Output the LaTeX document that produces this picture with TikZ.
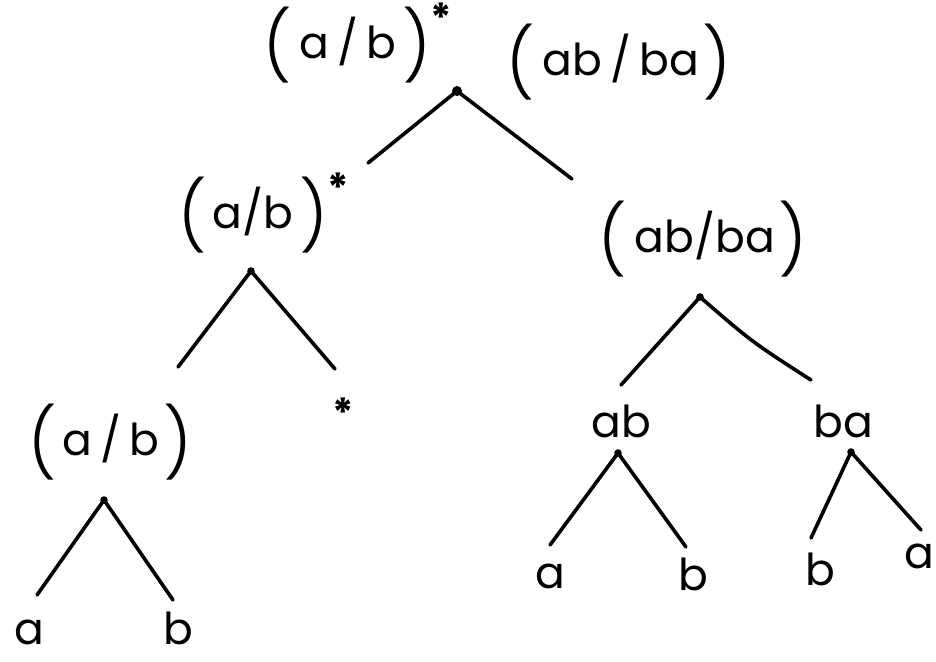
\documentclass[tikz,border=0pt]{standalone}
\usepackage{fontspec}
\setmainfont{Poppins}
\newfontfamily\parfont{Poppins Light}
\newcommand\myl{\raisebox{-6pt}{\parfont\fontsize{34}{34}\selectfont(}}
\newcommand\myr{\raisebox{-6pt}{\parfont\fontsize{34}{34}\selectfont)}}
\newcommand\mystar{\raisebox{13pt}{\fontsize{20}{20}\selectfont\bfseries*}}
\begin{document}
\begin{tikzpicture}[x=0.5pt,y=-0.5pt,
  lbl/.style={inner sep=0pt, anchor=base west, font=\fontsize{22}{22}\selectfont},
  br/.style={line width=1.8pt, line cap=round},
  dotn/.style={circle, fill, inner sep=0pt, minimum size=3.8pt}]
\useasboundingbox (0,0) rectangle (936,661);
% labels
\node[lbl] (l1) at (263,58) {\myl\hspace{4pt}a\hspace{4pt}/\hspace{4pt}b\hspace{3pt}\myr\mystar};
\node[lbl] (l2) at (506,75) {\myl\hspace{4pt}ab\hspace{4pt}/\hspace{4pt}ba\hspace{2pt}\myr};
\node[lbl] (l3) at (178,228) {\myl\hspace{3pt}a/b\hspace{3pt}\myr\mystar};
\node[lbl] (l4) at (598,252) {\myl\hspace{4pt}ab/ba\hspace{2pt}\myr};
\node[lbl] (l5) at (28,455) {\myl\hspace{3pt}a\hspace{4pt}/\hspace{4pt}b\hspace{2pt}\myr};
\node[inner sep=0pt, font=\fontsize{20}{20}\selectfont\bfseries] (st) at (343,413) {*};
\node[lbl] (ab) at (591,437) {ab};
\node[lbl] (ba) at (813,437) {ba};
\node[lbl] (a1) at (14,644) {a};
\node[lbl] (b1) at (163,644) {b};
\node[lbl] (a2) at (535,588) {a};
\node[lbl] (b2) at (678,590) {b};
\node[lbl] (b3) at (805,585) {b};
\node[lbl] (a3) at (904,568) {a};
% dots
\node[dotn, minimum size=5pt] (r) at (457,91) {};
\node[dotn] (n2) at (251,271) {};
\node[dotn] (n3) at (104,500) {};
\node[dotn] (n4) at (700,297) {};
\node[dotn] (n5) at (618,453) {};
\node[dotn] (n6) at (851,452) {};
% branch ends
\coordinate (r1) at (368,163);
\coordinate (r2) at (572,179);
\coordinate (e21) at (178,367);
\coordinate (e22) at (335,369);
\coordinate (e31) at (37,595);
\coordinate (e32) at (173,600);
\coordinate (e41) at (621,385);
\coordinate (e42c) at (752,342);
\coordinate (e42) at (811,380);
\coordinate (e51) at (550,545);
\coordinate (e52) at (686,547);
\coordinate (e61) at (811,538);
\coordinate (e62) at (921,530);
% branches
\draw[br] (r.center) -- (r1);
\draw[br] (r.center) -- (r2);
\draw[br] (n2.center) -- (e21);
\draw[br] (n2.center) -- (e22);
\draw[br] (n3.center) -- (e31);
\draw[br] (n3.center) -- (e32);
\draw[br] (n4.center) -- (e41);
\draw[br] (n4.center) .. controls (e42c) .. (e42);
\draw[br] (n5.center) -- (e51);
\draw[br] (n5.center) -- (e52);
\draw[br] (n6.center) -- (e61);
\draw[br] (n6.center) -- (e62);
\end{tikzpicture}
\end{document}
